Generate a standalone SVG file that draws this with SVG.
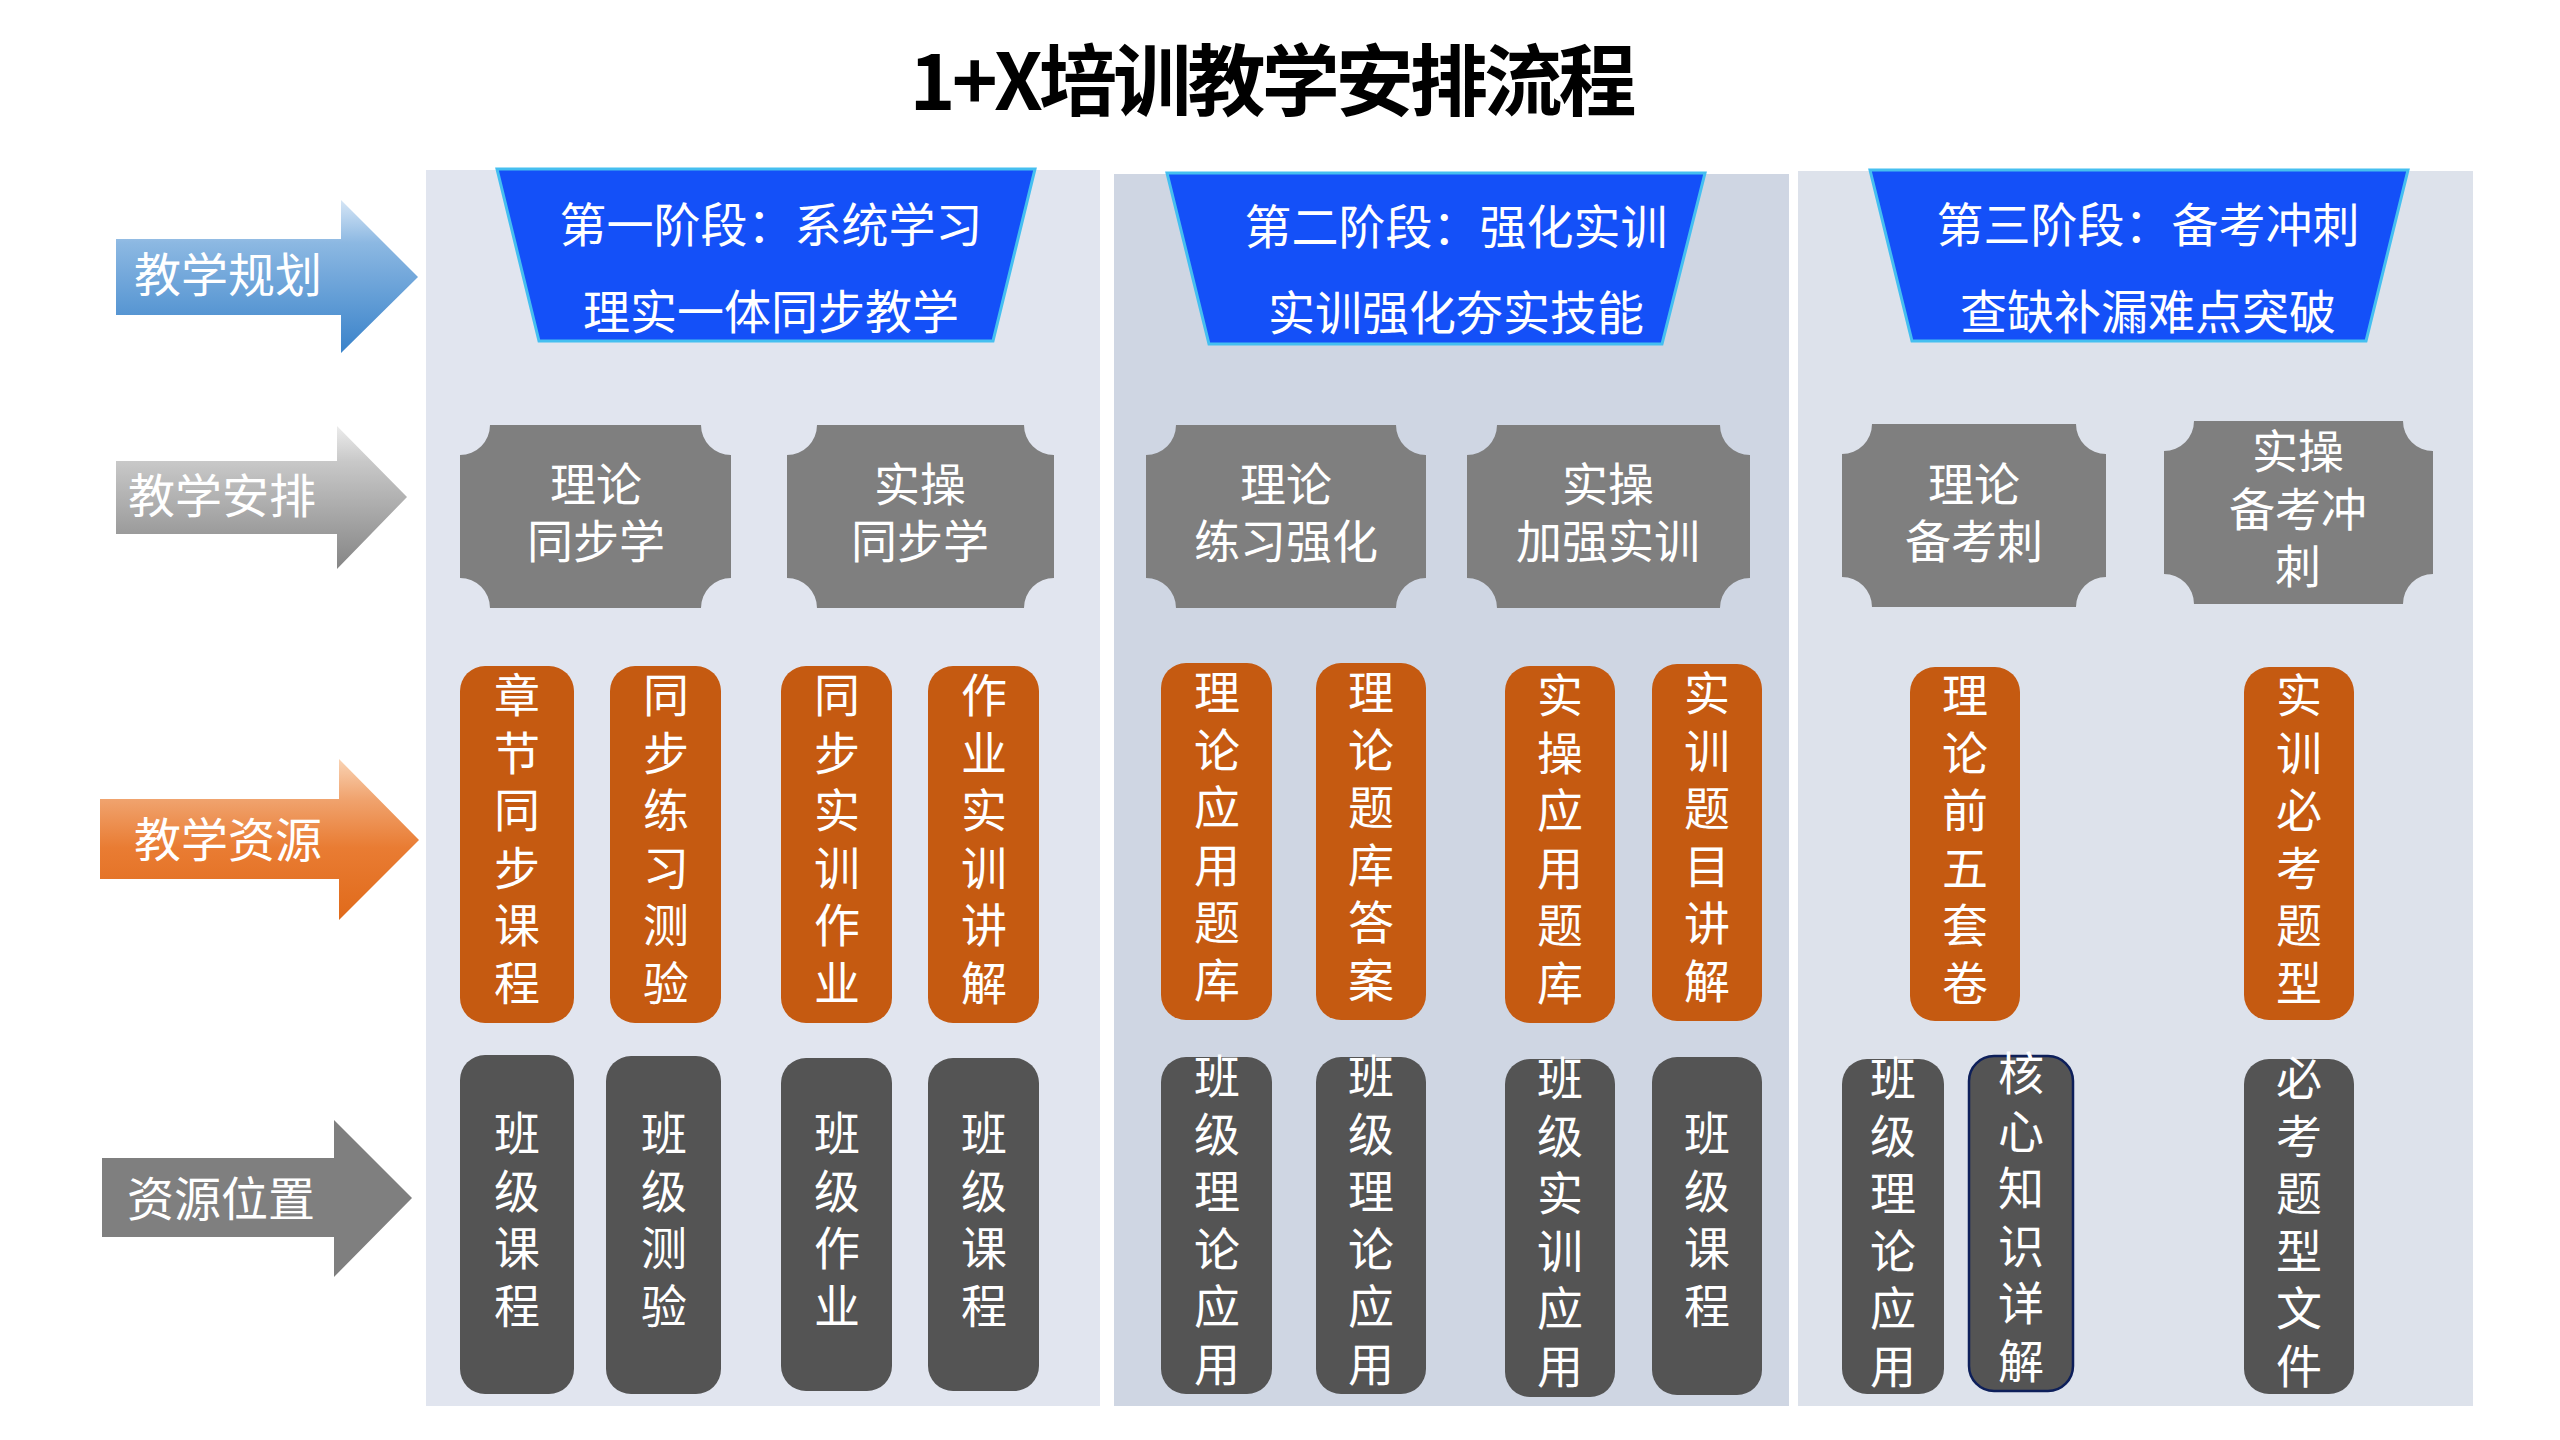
<svg xmlns="http://www.w3.org/2000/svg" width="2560" height="1440" viewBox="0 0 2560 1440">
<defs>
<style>
.t{font-family:"Noto Sans CJK SC","Noto Sans",sans-serif;fill:#fff;font-size:46px;text-anchor:middle;dominant-baseline:central}
.big{font-size:47px}
.v{font-family:"Noto Sans CJK SC","Noto Sans",sans-serif;fill:#fff;font-size:46px;text-anchor:middle;writing-mode:vertical-rl;letter-spacing:11.5px}
.title{font-family:"Noto Sans CJK SC","Noto Sans",sans-serif;fill:#000;font-size:78px;font-weight:bold;text-anchor:middle;dominant-baseline:central}
.trap{fill:#1450f8;stroke:#45bff0;stroke-width:3}
.plaque{fill:#7f7f7f}
.res{fill:#c55a11}
.loc{fill:#545454}
.core{fill:#545454;stroke:#0d1f5a;stroke-width:2.5}
</style>
<linearGradient id="gBlue" x1="0" y1="0" x2="0" y2="1">
<stop offset="0" stop-color="#d6e6f6"/>
<stop offset="0.28" stop-color="#8cb8e2"/>
<stop offset="1" stop-color="#3a83ca"/>
</linearGradient>
<linearGradient id="gGray" x1="0" y1="0" x2="0" y2="1">
<stop offset="0" stop-color="#ececec"/>
<stop offset="0.25" stop-color="#c8c8c8"/>
<stop offset="1" stop-color="#858585"/>
</linearGradient>
<linearGradient id="gOrange" x1="0" y1="0" x2="0" y2="1">
<stop offset="0" stop-color="#f9d3b4"/>
<stop offset="0.25" stop-color="#f0a36e"/>
<stop offset="0.55" stop-color="#e97c33"/>
<stop offset="1" stop-color="#e06a1a"/>
</linearGradient>
</defs>
<rect width="2560" height="1440" fill="#fff"/>

<text class="title" x="1273" y="76" textLength="727" lengthAdjust="spacing">1+X培训教学安排流程</text>

<g id="panels">
<rect x="426" y="170" width="674" height="1236" fill="#e1e5ef"/>
<rect x="1114" y="174" width="675" height="1232" fill="#cfd6e3"/>
<rect x="1798" y="171" width="675" height="1235" fill="#dde2eb"/>
</g>

<g id="row-labels">
<g id="arrow-plan">
<polygon points="116,239 341,239 341,200 418,277 341,353 341,315 116,315" fill="url(#gBlue)"/>
<text class="t big" x="228" y="271">教学规划</text>
</g>
<g id="arrow-arrange">
<polygon points="116,461 337,461 337,426 407,497 337,569 337,534 116,534" fill="url(#gGray)"/>
<text class="t big" x="222" y="492">教学安排</text>
</g>
<g id="arrow-resource">
<polygon points="100,799 339,799 339,759 419,840 339,920 339,879 100,879" fill="url(#gOrange)"/>
<text class="t big" x="228" y="836">教学资源</text>
</g>
<g id="arrow-location">
<polygon points="102,1158 334,1158 334,1120 412,1198 334,1277 334,1237 102,1237" fill="#7f7f7f"/>
<text class="t big" x="221" y="1195">资源位置</text>
</g>
</g>

<g id="stage1">
<polygon class="trap" points="497,169 1035,169 993,341 539,341"/>
<text class="t big" x="771" y="221">第一阶段：系统学习</text>
<text class="t big" x="771" y="308">理实一体同步教学</text>
</g>
<g id="stage2">
<polygon class="trap" points="1167,173 1705,173 1662,344 1209,344"/>
<text class="t big" x="1456" y="223">第二阶段：强化实训</text>
<text class="t big" x="1456" y="309">实训强化夯实技能</text>
</g>
<g id="stage3">
<polygon class="trap" points="1870,170 2408,170 2366,341 1912,341"/>
<text class="t big" x="2148" y="221">第三阶段：备考冲刺</text>
<text class="t big" x="2148" y="308">查缺补漏难点突破</text>
</g>

<g id="arr1">
<path class="plaque" d="M490,425 H701 A30,30 0 0 0 731,455 V578 A30,30 0 0 0 701,608 H490 A30,30 0 0 0 460,578 V455 A30,30 0 0 0 490,425 Z"/>
<text class="t" x="596" y="481">理论</text>
<text class="t" x="596" y="538">同步学</text>
</g>
<g id="arr2">
<path class="plaque" d="M817,425 H1024 A30,30 0 0 0 1054,455 V578 A30,30 0 0 0 1024,608 H817 A30,30 0 0 0 787,578 V455 A30,30 0 0 0 817,425 Z"/>
<text class="t" x="920" y="481">实操</text>
<text class="t" x="920" y="538">同步学</text>
</g>
<g id="arr3">
<path class="plaque" d="M1176,425 H1396 A30,30 0 0 0 1426,455 V578 A30,30 0 0 0 1396,608 H1176 A30,30 0 0 0 1146,578 V455 A30,30 0 0 0 1176,425 Z"/>
<text class="t" x="1286" y="481">理论</text>
<text class="t" x="1286" y="538">练习强化</text>
</g>
<g id="arr4">
<path class="plaque" d="M1497,425 H1720 A30,30 0 0 0 1750,455 V578 A30,30 0 0 0 1720,608 H1497 A30,30 0 0 0 1467,578 V455 A30,30 0 0 0 1497,425 Z"/>
<text class="t" x="1608" y="481">实操</text>
<text class="t" x="1608" y="538">加强实训</text>
</g>
<g id="arr5">
<path class="plaque" d="M1872,424 H2076 A30,30 0 0 0 2106,454 V577 A30,30 0 0 0 2076,607 H1872 A30,30 0 0 0 1842,577 V454 A30,30 0 0 0 1872,424 Z"/>
<text class="t" x="1974" y="481">理论</text>
<text class="t" x="1974" y="538">备考刺</text>
</g>
<g id="arr6">
<path class="plaque" d="M2194,421 H2403 A30,30 0 0 0 2433,451 V574 A30,30 0 0 0 2403,604 H2194 A30,30 0 0 0 2164,574 V451 A30,30 0 0 0 2194,421 Z"/>
<text class="t" x="2298" y="448">实操</text>
<text class="t" x="2298" y="506">备考冲</text>
<text class="t" x="2298" y="563">刺</text>
</g>

<g id="resA"><rect class="res" x="460" y="666" width="114" height="357" rx="25"/><text class="v" x="517" y="844.5">章节同步课程</text></g>
<g id="resB"><rect class="res" x="610" y="666" width="111" height="357" rx="25"/><text class="v" x="666" y="844.5">同步练习测验</text></g>
<g id="resC"><rect class="res" x="781" y="666" width="111" height="357" rx="25"/><text class="v" x="837" y="844.5">同步实训作业</text></g>
<g id="resD"><rect class="res" x="928" y="666" width="111" height="357" rx="25"/><text class="v" x="984" y="844.5">作业实训讲解</text></g>
<g id="resE"><rect class="res" x="1161" y="663" width="111" height="357" rx="25"/><text class="v" x="1217" y="841.5">理论应用题库</text></g>
<g id="resF"><rect class="res" x="1316" y="663" width="110" height="357" rx="25"/><text class="v" x="1371" y="841.5">理论题库答案</text></g>
<g id="resG"><rect class="res" x="1505" y="666" width="110" height="357" rx="25"/><text class="v" x="1560" y="844.5">实操应用题库</text></g>
<g id="resH"><rect class="res" x="1652" y="664" width="110" height="357" rx="25"/><text class="v" x="1707" y="842.5">实训题目讲解</text></g>
<g id="resI"><rect class="res" x="1910" y="667" width="110" height="354" rx="25"/><text class="v" x="1965" y="844.5">理论前五套卷</text></g>
<g id="resJ"><rect class="res" x="2244" y="667" width="110" height="353" rx="25"/><text class="v" x="2299" y="844.5">实训必考题型</text></g>

<g id="locA"><rect class="loc" x="460" y="1055" width="114" height="339" rx="25"/><text class="v" x="517" y="1225">班级课程</text></g>
<g id="locB"><rect class="loc" x="606" y="1056" width="115" height="338" rx="25"/><text class="v" x="664" y="1225">班级测验</text></g>
<g id="locC"><rect class="loc" x="781" y="1058" width="111" height="333" rx="25"/><text class="v" x="837" y="1225">班级作业</text></g>
<g id="locD"><rect class="loc" x="928" y="1058" width="111" height="333" rx="25"/><text class="v" x="984" y="1225">班级课程</text></g>
<g id="locE"><rect class="loc" x="1161" y="1057" width="111" height="337" rx="25"/><text class="v" x="1217" y="1225.5">班级理论应用</text></g>
<g id="locF"><rect class="loc" x="1316" y="1057" width="110" height="337" rx="25"/><text class="v" x="1371" y="1225.5">班级理论应用</text></g>
<g id="locG"><rect class="loc" x="1505" y="1059" width="110" height="338" rx="25"/><text class="v" x="1560" y="1227.5">班级实训应用</text></g>
<g id="locH"><rect class="loc" x="1652" y="1057" width="110" height="338" rx="25"/><text class="v" x="1707" y="1225">班级课程</text></g>
<g id="locI"><rect class="loc" x="1842" y="1059" width="102" height="335" rx="25"/><text class="v" x="1893" y="1227.5">班级理论应用</text></g>
<g id="locK"><rect class="core" x="1969" y="1056" width="104" height="335" rx="25"/><text class="v" x="2021" y="1222.5">核心知识详解</text></g>
<g id="locJ"><rect class="loc" x="2244" y="1059" width="110" height="335" rx="25"/><text class="v" x="2299" y="1227.5">必考题型文件</text></g>

<g id="connectors"></g>
</svg>
